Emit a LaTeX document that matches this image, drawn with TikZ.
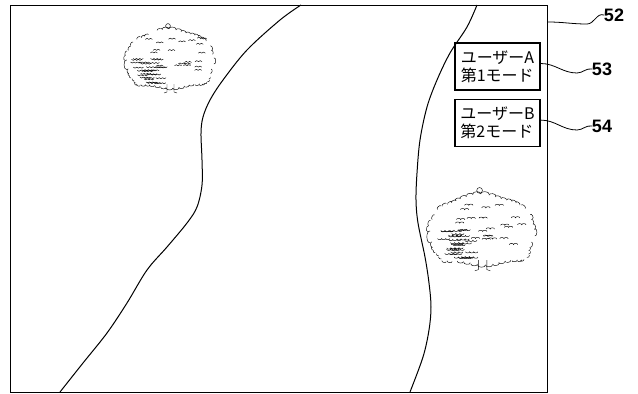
\documentclass[tikz,border=0pt]{standalone}
\usepackage{fontspec}
\setmainfont{Liberation Sans}
\newfontfamily\jpfont{Noto Sans CJK JP}
\usetikzlibrary{positioning,calc}
\tikzset{
  screenframe/.style={draw,line width=1.1pt,inner sep=0pt,minimum width=537pt,minimum height=387pt},
  modebox/.style={draw,line width=1.6pt,inner sep=0pt,minimum width=85pt,minimum height=47pt,align=left,font=\jpfont\fontsize{16}{18}\selectfont},
  reflabel/.style={inner sep=0pt,font=\bfseries\fontsize{18}{18}\selectfont},
  leader/.style={line width=0.8pt},
  road/.style={line width=1pt},
  leaf/.style={line width=0.45pt},
  pics/tree/.style={code={\treebody{#1}}}
}
% crown edge point at angle #1, stored in #2/#3
\newcommand\crownpt[3]{%
  \pgfmathsetmacro\cc{cos(#1)}%
  \pgfmathsetmacro\ss{sin(#1)}%
  \pgfmathsetmacro#2{(43+1.8*sin(5*#1)+cos(13*#1))*sign(\cc)*abs(\cc)^0.9}%
  \pgfmathsetmacro#3{(\ss>0)?(-34*\ss^0.8):(23*abs(\ss)^0.45)}%
  \pgfmathsetmacro#3{#3+1.2*sin(7*#1)}}
\newcommand\treebody[1]{%
  \pgfmathsetseed{#1}%
  % crown outline, broken scallops
  \foreach \a in {0,7,...,353}{
    \crownpt{\a}{\xa}{\ya}
    \crownpt{\a+7}{\xb}{\yb}
    \pgfmathsetmacro\gap{rnd}
    \ifdim\gap pt>0.15pt
      \draw[leaf] (\xa,\ya) to[bend right=100] (\xb,\yb);
    \fi
  }
  \draw[leaf] (-2,-38) circle[radius=2.4];
  % scattered leaf marks
  \foreach \i in {1,...,22}{
    \pgfmathsetmacro\px{-28+58*rnd}
    \pgfmathsetmacro\py{-26+36*rnd}
    \draw[leaf] (\px,\py) to[bend left=95] ++(3.5,0) to[bend left=95] ++(3.5,0);
  }
  % dense lower left foliage
  \foreach \r in {0,...,6}{
    \foreach \i in {1,...,4}{
      \pgfmathsetmacro\px{-42+2*\r+(30-2*\r)*rnd}
      \pgfmathsetmacro\py{-5+3.8*\r+rand}
      \draw[leaf] (\px,\py) to[bend right=95] ++(3.4,0) to[bend right=95] ++(3.4,0) to[bend right=95] ++(3.4,0);
    }
  }
  % trunk
  \draw[leaf] (-3,20) -- (-3,28) (4,20) -- (4,28) (-6,29) -- (-3,28) (4,28) -- (7,29);
}

\begin{document}
\begin{tikzpicture}[x=1pt,y=-1pt]
\useasboundingbox (0,0) rectangle (638,394);

\node[screenframe,anchor=north west] (screen) at (10,5) {};

\draw[road] plot[smooth,tension=0.55] coordinates {(301,5) (280,20) (247,50) (223,80) (210,100) (203,117) (201,133) (202,160) (202,185) (197,207) (187,223) (167,247) (147,270) (127,303) (107,333) (83,363) (60,392)};
\draw[road] plot[smooth,tension=0.55] coordinates {(477,5) (467,27) (450,53) (437,80) (427,107) (420,140) (417,173) (416,200) (418,223) (425,257) (429,283) (431,307) (429,330) (423,357) (410,392)};

\pic at (170,64) {tree=7};
\pic[scale=1.2] at (482,236) {tree=21};

\node[modebox] (boxA) at (497.5,66.5) {ユーザーA\\第1モード};
\node[modebox,below=8pt of boxA] (boxB) {ユーザーB\\第2モード};

\node[reflabel] (n52) at (614,15) {52};
\node[reflabel] (n53) at (602,69) {53};
\node[reflabel] (n54) at (602,126) {54};

\coordinate (t52) at ([yshift=-17pt]screen.north east);
\draw[leader] (t52) to[out=0,in=180] (587,24) to[out=0,in=160] (n52.west);
\draw[leader] ([yshift=3pt]boxA.east) to[out=0,in=180] (577,73) to[out=0,in=170] (n53.west);
\draw[leader] ([yshift=3pt]boxB.east) to[out=0,in=180] (577,130) to[out=0,in=170] (n54.west);
\end{tikzpicture}
\end{document}
